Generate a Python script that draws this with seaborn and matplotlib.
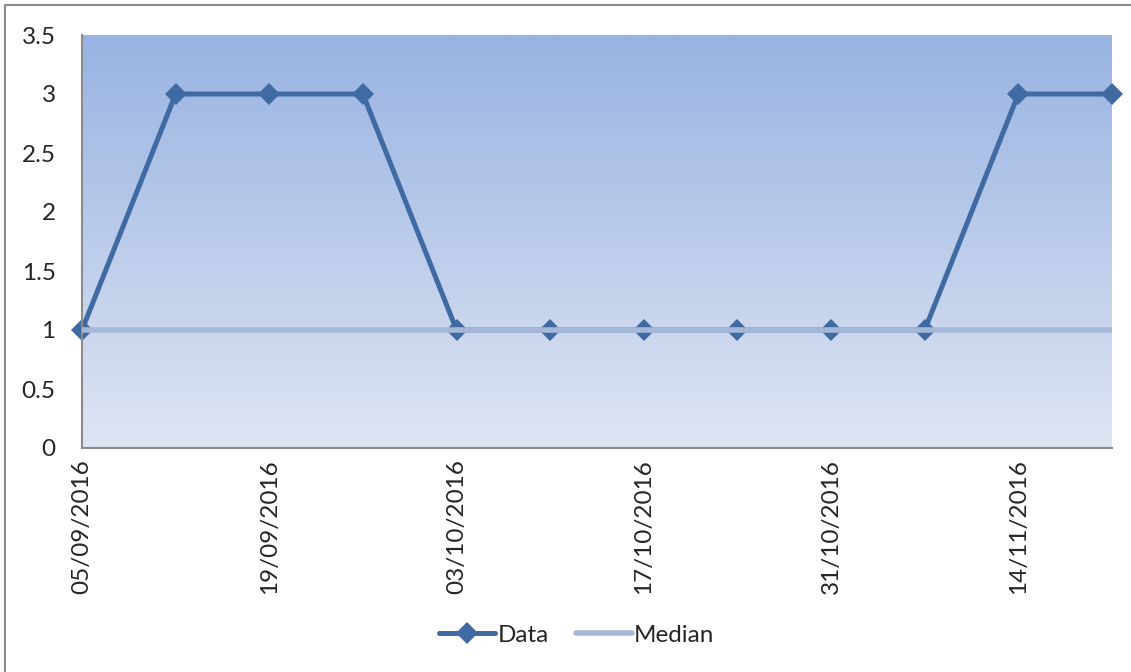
import numpy as np
import pandas as pd
import matplotlib
matplotlib.use("Agg")
import matplotlib.pyplot as plt
from matplotlib.colors import LinearSegmentedColormap
from matplotlib.lines import Line2D
import seaborn as sns

# Weekly observations
dates = ["05/09/2016", "12/09/2016", "19/09/2016", "26/09/2016",
         "03/10/2016", "10/10/2016", "17/10/2016", "24/10/2016",
         "31/10/2016", "07/11/2016", "14/11/2016", "21/11/2016"]
values = [1, 3, 3, 3, 1, 1, 1, 1, 1, 1, 3, 3]
median = [1] * len(dates)
y_ticks = [0, 0.5, 1, 1.5, 2, 2.5, 3, 3.5]

sns.set_theme(style="white")
plt.rcParams["font.family"] = ["Lato", "DejaVu Sans"]

df = pd.DataFrame({"pos": np.arange(len(dates)), "Data": values, "Median": median})

fig = plt.figure(figsize=(11.31, 6.72), dpi=100)
ax = fig.add_axes([82 / 1131, 1 - 448 / 672, (1112 - 82) / 1131, (448 - 35) / 672])

data_color = "#3F6AA2"
median_color = "#A5B8D8"

# Vertical gradient fill for the plot area
grad = LinearSegmentedColormap.from_list("bg", ["#DFE5F3", "#98B3E2"])
ax.imshow(np.linspace(0, 1, 256).reshape(-1, 1), cmap=grad, aspect="auto",
          origin="lower", extent=[0, 1, 0, 1], transform=ax.transAxes, zorder=0)

sns.lineplot(data=df, x="pos", y="Data", ax=ax, color=data_color,
             linewidth=3.6, marker="D", markersize=11, markeredgewidth=0,
             zorder=2, legend=False, clip_on=False)
sns.lineplot(data=df, x="pos", y="Median", ax=ax, color=median_color,
             linewidth=4.0, zorder=3, legend=False)

ax.set_xlim(0, len(dates) - 1)
ax.set_ylim(0, 3.5)
ax.set_yticks(y_ticks)
ax.set_yticklabels([f"{t:g}" for t in y_ticks], fontsize=17.5)
ax.set_xticks(np.arange(0, len(dates), 2))
ax.set_xticklabels(dates[::2], rotation=90, fontsize=17.5, va="top", ha="center")
ax.tick_params(axis="y", length=0, pad=19)
ax.tick_params(axis="x", length=0, pad=8)
ax.set_xlabel("")
ax.set_ylabel("")
for side in ["top", "right"]:
    ax.spines[side].set_visible(False)
for side in ["left", "bottom"]:
    ax.spines[side].set_color("#8C8C8C")
    ax.spines[side].set_linewidth(1.5)

handles = [
    Line2D([], [], color=data_color, linewidth=3.6, marker="D", markersize=11,
           markeredgewidth=0),
    Line2D([], [], color=median_color, linewidth=4.0),
]
fig.legend(handles, ["Data", "Median"], loc="center", bbox_to_anchor=(577 / 1131, 1 - 635 / 672),
           ncol=2, frameon=False, fontsize=17.5, handlelength=2.3, handletextpad=0.1,
           columnspacing=1.1)

# Outer frame along the top and left edges
fig.add_artist(Line2D([5 / 1131, 5 / 1131], [0, 1 - 5 / 672], transform=fig.transFigure,
                      color="#8C8C8C", linewidth=1.5))
fig.add_artist(Line2D([5 / 1131, 1], [1 - 5 / 672, 1 - 5 / 672], transform=fig.transFigure,
                      color="#8C8C8C", linewidth=1.5))

fig.savefig("out.png", dpi=100, facecolor="white")
